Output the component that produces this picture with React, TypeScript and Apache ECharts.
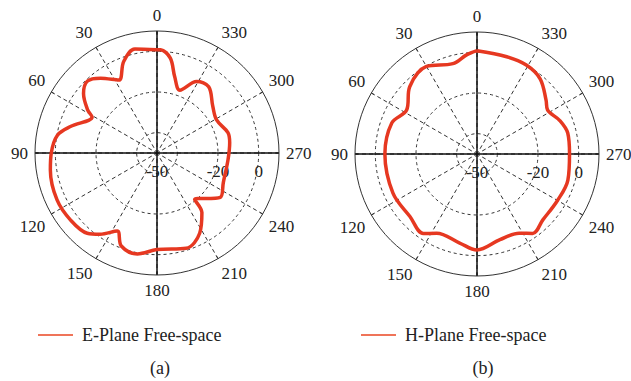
import React, { useEffect, useRef } from "react";
import * as echarts from "echarts";

const angleTicks = [0, 30, 60, 90, 120, 150, 180, 210, 240, 270, 300, 330];
const radiusLabels = [-50, -20, 0];
const ringValues = [-40, -20, 0];

const eAngles = [0, 12, 20, 27.6, 37, 44, 51, 58, 61, 73, 80, 90, 99, 115, 128, 139, 145, 153, 159, 169, 180, 197, 208, 217, 219, 235, 246, 265, 278, 286, 299, 310, 322, 331, 340, 347, 352, 358, 360];
const eValues = [0.8, 2.3, -2.1, -9.5, -3.9, -0.8, -3.5, -9.7, -13.5, -5.5, -0.2, 2, 3.1, 4.3, 3.8, 2.3, -1.2, -6.9, -1, 0.6, -2.5, -1, -5.3, -13.3, -20.6, -12, -14.3, -14.9, -13.9, -13.7, -16.5, -14.2, -8.7, -9.8, -17.1, -11.4, -2.9, 0.8, 0.8];

const hAngles = [0, 6, 15, 30, 45, 58, 70, 90, 115, 133, 146, 153, 169, 180, 195, 208, 215, 225, 240, 254, 270, 283, 292, 302, 308, 320, 331, 343, 360];
const hValues = [0.8, -1, -4, -0.3, -3.2, -9.2, -5.4, -4.7, -4.4, -4.9, -2.8, -6.3, -5.4, -2.8, -6.4, -5.9, -2.3, -4.2, -4.3, -3.5, -4.5, -4.2, -6.1, -9.1, -6.9, -1.7, 0, 0, 0.8];

const seriesNames = ["E-Plane Free-space", "H-Plane Free-space"];
const panelLabels = ["(a)", "(b)"];

const FONT = "'Liberation Serif', 'DejaVu Serif', serif";
const RED = "#e63821";
const LEGEND_RED = "#ef7459";
const INK = "#222";

export default function App() {
  const ref = useRef<HTMLDivElement>(null);
  useEffect(() => {
    if (!ref.current) return;
    const chart = echarts.init(ref.current, null, { renderer: "svg" });
    const centers = [
      [157, 153],
      [477, 154],
    ];
    const R = 122;
    const polar: any[] = [];
    const angleAxis: any[] = [];
    const radiusAxis: any[] = [];
    const tickVals = [-50, -40, -30, -20, -10, 0, 10];
    const ringColors = tickVals.map((v) => (ringValues.includes(v) ? "#333" : "rgba(0,0,0,0)"));
    centers.forEach((c, k) => {
      polar.push({ center: c, radius: R });
      polar.push({ center: c, radius: R });
      angleAxis.push({
        polarIndex: 2 * k,
        type: "value",
        min: 0,
        max: 360,
        interval: 30,
        startAngle: 90,
        clockwise: false,
        axisLine: { show: true, lineStyle: { color: "#333", width: 1 } },
        axisTick: { show: true, inside: true, length: 3, lineStyle: { color: "#333" } },
        axisLabel: {
          margin: 7,
          color: INK,
          fontSize: 17,
          fontFamily: FONT,
          formatter: (v: number) => (angleTicks.includes(v) ? String(v) : ""),
        },
        splitLine: { show: true, lineStyle: { color: "#333", type: [4, 3], width: 1 } },
      });
      angleAxis.push({
        polarIndex: 2 * k + 1,
        type: "value",
        min: 0,
        max: 360,
        interval: 90,
        startAngle: 0,
        clockwise: false,
        axisLine: { show: false },
        axisTick: { show: false },
        axisLabel: { show: false },
        splitLine: { show: true, lineStyle: { color: "#111", width: 1.5 } },
      });
      radiusAxis.push({
        polarIndex: 2 * k,
        type: "value",
        min: -50,
        max: 10,
        interval: 10,
        axisLine: { show: false },
        axisTick: { show: false },
        axisLabel: { show: false },
        splitLine: { show: true, lineStyle: { color: ringColors, type: [3, 3], width: 1 } },
      });
      radiusAxis.push({
        polarIndex: 2 * k + 1,
        type: "value",
        min: -50,
        max: 10,
        interval: 10,
        axisLine: { show: false },
        axisTick: { show: false },
        splitLine: { show: false },
        axisLabel: {
          margin: -10,
          verticalAlign: "top",
          color: INK,
          fontSize: 17,
          fontFamily: FONT,
          formatter: (v: number) => (radiusLabels.includes(v) ? String(v) : ""),
        },
      });
    });

    const series = [
      {
        name: seriesNames[0],
        type: "line",
        coordinateSystem: "polar",
        polarIndex: 0,
        data: eAngles.map((a, i) => [eValues[i], a]),
        smooth: 0.35,
        symbol: "none",
        lineStyle: { color: RED, width: 3.5 },
        itemStyle: { color: RED },
        z: 5,
      },
      {
        name: seriesNames[1],
        type: "line",
        coordinateSystem: "polar",
        polarIndex: 2,
        data: hAngles.map((a, i) => [hValues[i], a]),
        smooth: 0.35,
        symbol: "none",
        lineStyle: { color: RED, width: 3.5 },
        itemStyle: { color: RED },
        z: 5,
      },
    ];

    const legendBase = {
      icon: "rect",
      itemWidth: 35,
      itemHeight: 2,
      itemStyle: { color: LEGEND_RED },
      textStyle: { fontFamily: FONT, fontSize: 18, color: INK, padding: [0, 0, 0, 4] },
      top: 321,
    };

    const titleStyle = { fontFamily: FONT, fontSize: 18, fontWeight: "normal", color: INK };

    chart.setOption({
      animation: false,
      backgroundColor: "#fff",
      title: [
        { text: panelLabels[0], left: 160, top: 359, padding: 0, textAlign: "center", textStyle: titleStyle },
        { text: panelLabels[1], left: 483, top: 359, padding: 0, textAlign: "center", textStyle: titleStyle },
      ],
      legend: [
        { ...legendBase, data: [seriesNames[0]], left: 33 },
        { ...legendBase, data: [seriesNames[1]], left: 356 },
      ],
      polar,
      angleAxis,
      radiusAxis,
      series,
    });
    return () => chart.dispose();
  }, []);
  return <div ref={ref} style={{ position: "fixed", left: 0, top: 0, width: 631, height: 381 }} />;
}
